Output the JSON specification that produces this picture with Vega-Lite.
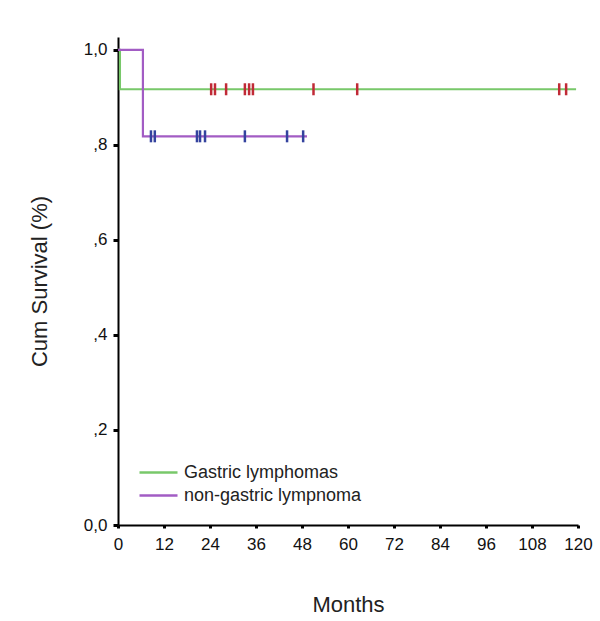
{
  "$schema": "https://vega.github.io/schema/vega-lite/v6.json",
  "width": 460,
  "height": 488,
  "autosize": "none",
  "padding": {"left": 118, "top": 37, "right": 22, "bottom": 96},
  "background": "white",
  "config": {
    "view": {"stroke": null},
    "font": "Liberation Sans",
    "axis": {"grid": false, "domainColor": "black", "domainWidth": 2, "tickColor": "black", "labelColor": "#111", "titleColor": "#222", "labelFont": "Liberation Sans", "titleFont": "Liberation Sans", "titleFontWeight": "normal"}
  },
  "data": {
    "values": [
      {"group": "Gastric lymphomas", "kind": "curve", "t": 0, "s": 1},
      {"group": "Gastric lymphomas", "kind": "curve", "t": 0.5, "s": 0.917},
      {"group": "Gastric lymphomas", "kind": "curve", "t": 119.5, "s": 0.917},
      {"group": "non-gastric lympnoma", "kind": "curve", "t": 0, "s": 1},
      {"group": "non-gastric lympnoma", "kind": "curve", "t": 6.5, "s": 0.818},
      {"group": "non-gastric lympnoma", "kind": "curve", "t": 49.3, "s": 0.818},
      {"group": "Gastric lymphomas", "kind": "censor", "t": 24.3, "s": 0.917},
      {"group": "Gastric lymphomas", "kind": "censor", "t": 25.3, "s": 0.917},
      {"group": "Gastric lymphomas", "kind": "censor", "t": 28.2, "s": 0.917},
      {"group": "Gastric lymphomas", "kind": "censor", "t": 33.1, "s": 0.917},
      {"group": "Gastric lymphomas", "kind": "censor", "t": 34.2, "s": 0.917},
      {"group": "Gastric lymphomas", "kind": "censor", "t": 35.2, "s": 0.917},
      {"group": "Gastric lymphomas", "kind": "censor", "t": 51.0, "s": 0.917},
      {"group": "Gastric lymphomas", "kind": "censor", "t": 62.4, "s": 0.917},
      {"group": "Gastric lymphomas", "kind": "censor", "t": 115.1, "s": 0.917},
      {"group": "Gastric lymphomas", "kind": "censor", "t": 116.9, "s": 0.917},
      {"group": "non-gastric lympnoma", "kind": "censor", "t": 8.6, "s": 0.818},
      {"group": "non-gastric lympnoma", "kind": "censor", "t": 9.6, "s": 0.818},
      {"group": "non-gastric lympnoma", "kind": "censor", "t": 20.6, "s": 0.818},
      {"group": "non-gastric lympnoma", "kind": "censor", "t": 21.4, "s": 0.818},
      {"group": "non-gastric lympnoma", "kind": "censor", "t": 22.7, "s": 0.818},
      {"group": "non-gastric lympnoma", "kind": "censor", "t": 33.1, "s": 0.818},
      {"group": "non-gastric lympnoma", "kind": "censor", "t": 44.1, "s": 0.818},
      {"group": "non-gastric lympnoma", "kind": "censor", "t": 48.3, "s": 0.818}
    ]
  },
  "encoding": {
    "x": {
      "field": "t", "type": "quantitative",
      "scale": {"domain": [0, 120], "nice": false, "zero": false},
      "axis": {"title": "Months", "values": [0,12,24,36,48,60,72,84,96,108,120], "labelFlush": false, "labelOverlap": false, "tickSize": 3, "tickWidth": 3, "labelFontSize": 17, "labelPadding": 8, "titleFontSize": 22, "titlePadding": 42}
    },
    "y": {
      "field": "s", "type": "quantitative",
      "scale": {"domain": [0, 1.027], "nice": false},
      "axis": {"title": "Cum Survival (%)", "values": [0,0.2,0.4,0.6,0.8,1], "labelExpr": "datum.value == 0 ? '0,0' : datum.value == 1 ? '1,0' : ',' + format(datum.value*10, '.0f')", "tickSize": 5, "tickWidth": 3, "labelFontSize": 17, "labelPadding": 6, "titleFontSize": 22, "titlePadding": 32}
    }
  },
  "layer": [
    {
      "transform": [{"filter": "datum.kind == 'curve'"}],
      "mark": {"type": "line", "interpolate": "step-after", "strokeWidth": 2.2},
      "encoding": {
        "color": {
          "field": "group", "type": "nominal",
          "scale": {"domain": ["Gastric lymphomas", "non-gastric lympnoma"], "range": ["#78c86a", "#a25cc4"]},
          "legend": {"title": null, "orient": "none", "legendX": 29, "legendY": 424, "symbolType": "M-1.9,0H1.9", "symbolSize": 400, "symbolStrokeWidth": 2.5, "labelFontSize": 18, "labelColor": "#222", "labelOffset": 14, "labelLimit": 400, "rowPadding": 2}
        }
      }
    },
    {
      "transform": [{"filter": "datum.kind == 'censor'"}],
      "mark": {"type": "tick", "orient": "vertical", "size": 12, "thickness": 2.5, "opacity": 1},
      "encoding": {
        "color": {
          "field": "group", "type": "nominal",
          "scale": {"domain": ["Gastric lymphomas", "non-gastric lympnoma"], "range": ["#c02a36", "#34429e"]},
          "legend": null
        }
      }
    }
  ],
  "resolve": {"scale": {"color": "independent"}}
}
